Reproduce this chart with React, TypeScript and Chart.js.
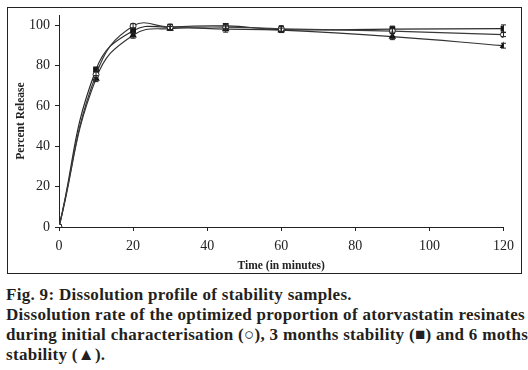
import React, { useEffect, useRef } from "react";
import { Chart, registerables } from "chart.js";

Chart.register(...registerables);

const times = [0, 10, 20, 30, 45, 60, 90, 120];
const initialRelease = [0, 75.5, 99.5, 99, 99, 98.2, 97, 95.3];
const initialErr = [0, 1.5, 1.2, 1.2, 1.0, 1.5, 1.2, 1.0];
const month3Release = [0, 78, 97.2, 99, 99.6, 97.8, 98, 98.3];
const month3Err = [0, 1.2, 1.5, 1.5, 1.2, 1.5, 1.5, 1.8];
const month6Release = [0, 73.5, 95, 98.3, 98, 97.5, 94.3, 89.8];
const month6Err = [0, 1.5, 1.5, 1.0, 1.5, 1.0, 1.5, 1.2];
const yTicks = [0, 20, 40, 60, 80, 100];
const xTicks = [0, 20, 40, 60, 80, 100, 120];

const errorBarPlugin = {
  id: "errorBars",
  afterDatasetsDraw(chart: any) {
    const ctx = chart.ctx;
    const yScale = chart.scales.y;
    chart.data.datasets.forEach((ds: any, i: number) => {
      const meta = chart.getDatasetMeta(i);
      const errs: number[] = ds.errors || [];
      meta.data.forEach((pt: any, j: number) => {
        const v = ds.data[j].y;
        const e = errs[j] || 0;
        if (!e) return;
        const top = yScale.getPixelForValue(v + e);
        const bot = yScale.getPixelForValue(v - e);
        ctx.save();
        ctx.strokeStyle = "#222";
        ctx.lineWidth = 1;
        ctx.beginPath();
        ctx.moveTo(pt.x, top);
        ctx.lineTo(pt.x, bot);
        ctx.moveTo(pt.x - 2.5, top);
        ctx.lineTo(pt.x + 2.5, top);
        ctx.moveTo(pt.x - 2.5, bot);
        ctx.lineTo(pt.x + 2.5, bot);
        ctx.stroke();
        ctx.restore();
      });
    });
  },
};

function toPoints(vals: number[]) {
  return times.map((t, i) => ({ x: t, y: vals[i] }));
}

export default function App() {
  const ref = useRef<HTMLCanvasElement | null>(null);
  useEffect(() => {
    if (!ref.current) return;
    const serif = "'Liberation Serif', 'Times New Roman', serif";
    const chart = new Chart(ref.current, {
      type: "line",
      data: {
        datasets: [
          {
            label: "Initial",
            data: toPoints(initialRelease),
            errors: initialErr,
            borderColor: "#3a3a3a",
            borderWidth: 1.2,
            pointStyle: "circle",
            pointRadius: 3,
            pointBackgroundColor: "#fff",
            pointBorderColor: "#222",
            pointBorderWidth: 1,
            tension: 0.45,
          } as any,
          {
            label: "3 months",
            data: toPoints(month3Release),
            errors: month3Err,
            borderColor: "#2a2a2a",
            borderWidth: 1.2,
            pointStyle: "rect",
            pointRadius: 3.2,
            pointBackgroundColor: "#111",
            pointBorderColor: "#111",
            tension: 0.45,
          } as any,
          {
            label: "6 months",
            data: toPoints(month6Release),
            errors: month6Err,
            borderColor: "#333",
            borderWidth: 1.2,
            pointStyle: "triangle",
            pointRadius: 3.2,
            pointBackgroundColor: "#111",
            pointBorderColor: "#111",
            tension: 0.45,
          } as any,
        ],
      },
      options: {
        animation: false,
        responsive: false,
        maintainAspectRatio: false,
        layout: { padding: { top: 7, right: 17, left: 0, bottom: 0 } },
        plugins: {
          legend: { display: false },
          tooltip: { enabled: false },
        },
        scales: {
          x: {
            type: "linear",
            min: 0,
            max: 120,
            afterBuildTicks: (s: any) => {
              s.ticks = xTicks.map((v) => ({ value: v }));
            },
            afterFit: (s: any) => {
              s.height = 46;
            },
            ticks: {
              color: "#222",
              font: { family: serif, size: 14 },
              padding: 7,
              maxRotation: 0,
            },
            grid: {
              drawOnChartArea: false,
              drawTicks: true,
              tickLength: 4,
              color: "#222",
            },
            border: { color: "#222", width: 1 },
            title: {
              display: true,
              text: "Time (in minutes)",
              color: "#222",
              font: { family: serif, size: 11.5, weight: "bold" },
              padding: { top: 1, bottom: 0 },
            },
          },
          y: {
            type: "linear",
            min: 0,
            max: 105,
            afterBuildTicks: (s: any) => {
              s.ticks = yTicks.map((v) => ({ value: v }));
            },
            afterFit: (s: any) => {
              s.width = 51;
              s.paddingTop = 0;
              s.paddingBottom = 0;
            },
            ticks: {
              color: "#222",
              font: { family: serif, size: 14 },
              padding: 5,
            },
            grid: {
              drawOnChartArea: false,
              drawTicks: true,
              tickLength: 4,
              color: "#222",
            },
            border: { color: "#222", width: 1 },
            title: {
              display: true,
              text: "Percent Release",
              color: "#222",
              font: { family: serif, size: 11.5, weight: "bold" },
              padding: { top: 6, bottom: 2 },
            },
          },
        },
      },
      plugins: [errorBarPlugin],
    } as any);
    return () => chart.destroy();
  }, []);

  const captionStyle: React.CSSProperties = {
    position: "absolute",
    left: 6,
    top: 285,
    width: 524,
    fontFamily: "'Liberation Serif', 'Times New Roman', serif",
    fontWeight: "bold",
    fontSize: 17,
    letterSpacing: "0.3px",
    lineHeight: "20px",
    color: "#231f20",
    margin: 0,
    whiteSpace: "nowrap",
  };

  return (
    <div>
      <div
        style={{
          position: "absolute",
          left: 7,
          top: 7,
          width: 513,
          height: 265,
          border: "1px solid #222",
          background: "#fff",
        }}
      >
        <canvas ref={ref} width={513} height={265} style={{ display: "block" }} />
      </div>
      <div style={captionStyle}>
        <div>Fig. 9: Dissolution profile of stability samples.</div>
        <div>Dissolution rate of the optimized proportion of atorvastatin resinates</div>
        <div>during initial characterisation (○), 3 months stability (■) and 6 moths</div>
        <div>stability (▲).</div>
      </div>
    </div>
  );
}
